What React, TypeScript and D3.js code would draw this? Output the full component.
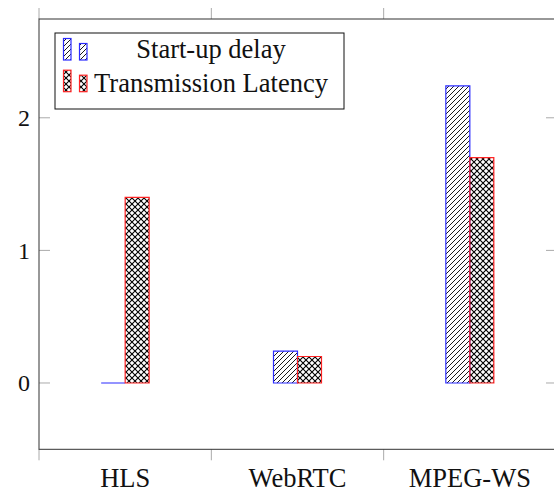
import * as d3 from "d3";

const categories = ["HLS", "WebRTC", "MPEG-WS"];
const seriesNames = ["Start-up delay", "Transmission Latency"];
const startupDelay = [0, 0.24, 2.24];
const transmissionLatency = [1.4, 0.2, 1.7];
const yTicks = [0, 1, 2];

const W = 554;
const H = 492;
const left = 39;
const right = 556;
const top = 19;
const bottom = 449.3;

const seriesStyle = [
  { stroke: "#2b2bff", pattern: "url(#nelines)" },
  { stroke: "#ff2424", pattern: "url(#xhatch)" },
];

export default function App() {
  const x = d3.scaleBand<string>().domain(categories).range([left, right]);
  const sub = d3.scaleBand<string>().domain(seriesNames).range([-24, 24]);
  const y = d3.scaleLinear().domain([-0.5, 2.745]).range([bottom, top]);

  const values = [startupDelay, transmissionLatency];
  const xTickPos = [...categories.map((c) => x(c)!), right];

  const barPath = (x0: number, x1: number, y0: number, y1: number) => {
    const p = d3.path();
    p.moveTo(x0, y0);
    p.lineTo(x0, y1);
    p.lineTo(x1, y1);
    p.lineTo(x1, y0);
    p.closePath();
    return p.toString();
  };

  const font = "'Liberation Serif', 'Times New Roman', serif";

  return (
    <svg
      width={W}
      height={H}
      style={{ position: "absolute", left: 0, top: 0, background: "#fff" }}
    >
      <defs>
        <pattern id="nelines" patternUnits="userSpaceOnUse" width={5} height={5}>
          <path d="M0,5 L5,0 M-1,1 L1,-1 M4,6 L6,4" stroke="#000" strokeWidth={0.9} />
        </pattern>
        <pattern id="xhatch" patternUnits="userSpaceOnUse" width={6} height={6}>
          <path d="M0,0 L6,6 M6,0 L0,6" stroke="#000" strokeWidth={1.1} />
        </pattern>
      </defs>

      {/* ticks */}
      {xTickPos.map((t, i) => (
        <g key={"xt" + i} stroke="#aaa" strokeWidth={1}>
          <line x1={t} x2={t} y1={bottom} y2={bottom + 11} />
          <line x1={t} x2={t} y1={top} y2={top - 11} />
        </g>
      ))}
      {yTicks.map((t) => (
        <g key={"yt" + t} stroke="#aaa" strokeWidth={1}>
          <line x1={left} x2={left + 11} y1={y(t)} y2={y(t)} />
          <line x1={right} x2={right - 10} y1={y(t)} y2={y(t)} />
        </g>
      ))}

      {/* bars */}
      {values.map((vals, si) =>
        vals.map((v, ci) => {
          const cx = x(categories[ci])! + x.bandwidth() / 2;
          const x0 = cx + sub(seriesNames[si])!;
          const x1 = x0 + sub.bandwidth();
          return (
            <path
              key={si + "-" + ci}
              d={barPath(x0, x1, y(0), y(v))}
              fill={seriesStyle[si].pattern}
              stroke={seriesStyle[si].stroke}
              strokeWidth={1.2}
            />
          );
        })
      )}

      {/* axis box */}
      <rect
        x={left}
        y={top}
        width={right - left}
        height={bottom - top}
        fill="none"
        stroke="#333"
        strokeWidth={1}
      />

      {/* tick labels */}
      {categories.map((c) => (
        <text
          key={c}
          x={x(c)! + x.bandwidth() / 2}
          y={487}
          textAnchor="middle"
          fontFamily={font}
          fontSize={26.5}
          fill="#111"
        >
          {c}
        </text>
      ))}
      {yTicks.map((t) => (
        <text
          key={"yl" + t}
          x={30}
          y={y(t) + 8.5}
          textAnchor="end"
          fontFamily={font}
          fontSize={24}
          fill="#111"
        >
          {t}
        </text>
      ))}

      {/* legend */}
      <rect x={55} y={33} width={289} height={76} fill="#fff" stroke="#111" strokeWidth={1} />
      {seriesNames.map((name, i) => {
        const base = i === 0 ? 60 : 91.7;
        return (
          <g key={name}>
            <rect
              x={63.5}
              y={base - 21.5}
              width={7.5}
              height={21.5}
              fill={seriesStyle[i].pattern}
              stroke={seriesStyle[i].stroke}
              strokeWidth={1.2}
            />
            <rect
              x={79.5}
              y={base - 16.5}
              width={7.5}
              height={16.5}
              fill={seriesStyle[i].pattern}
              stroke={seriesStyle[i].stroke}
              strokeWidth={1.2}
            />
            <text
              x={211}
              y={i === 0 ? 58 : 91.5}
              textAnchor="middle"
              fontFamily={font}
              fontSize={26.5}
              fill="#111"
            >
              {name}
            </text>
          </g>
        );
      })}
    </svg>
  );
}
